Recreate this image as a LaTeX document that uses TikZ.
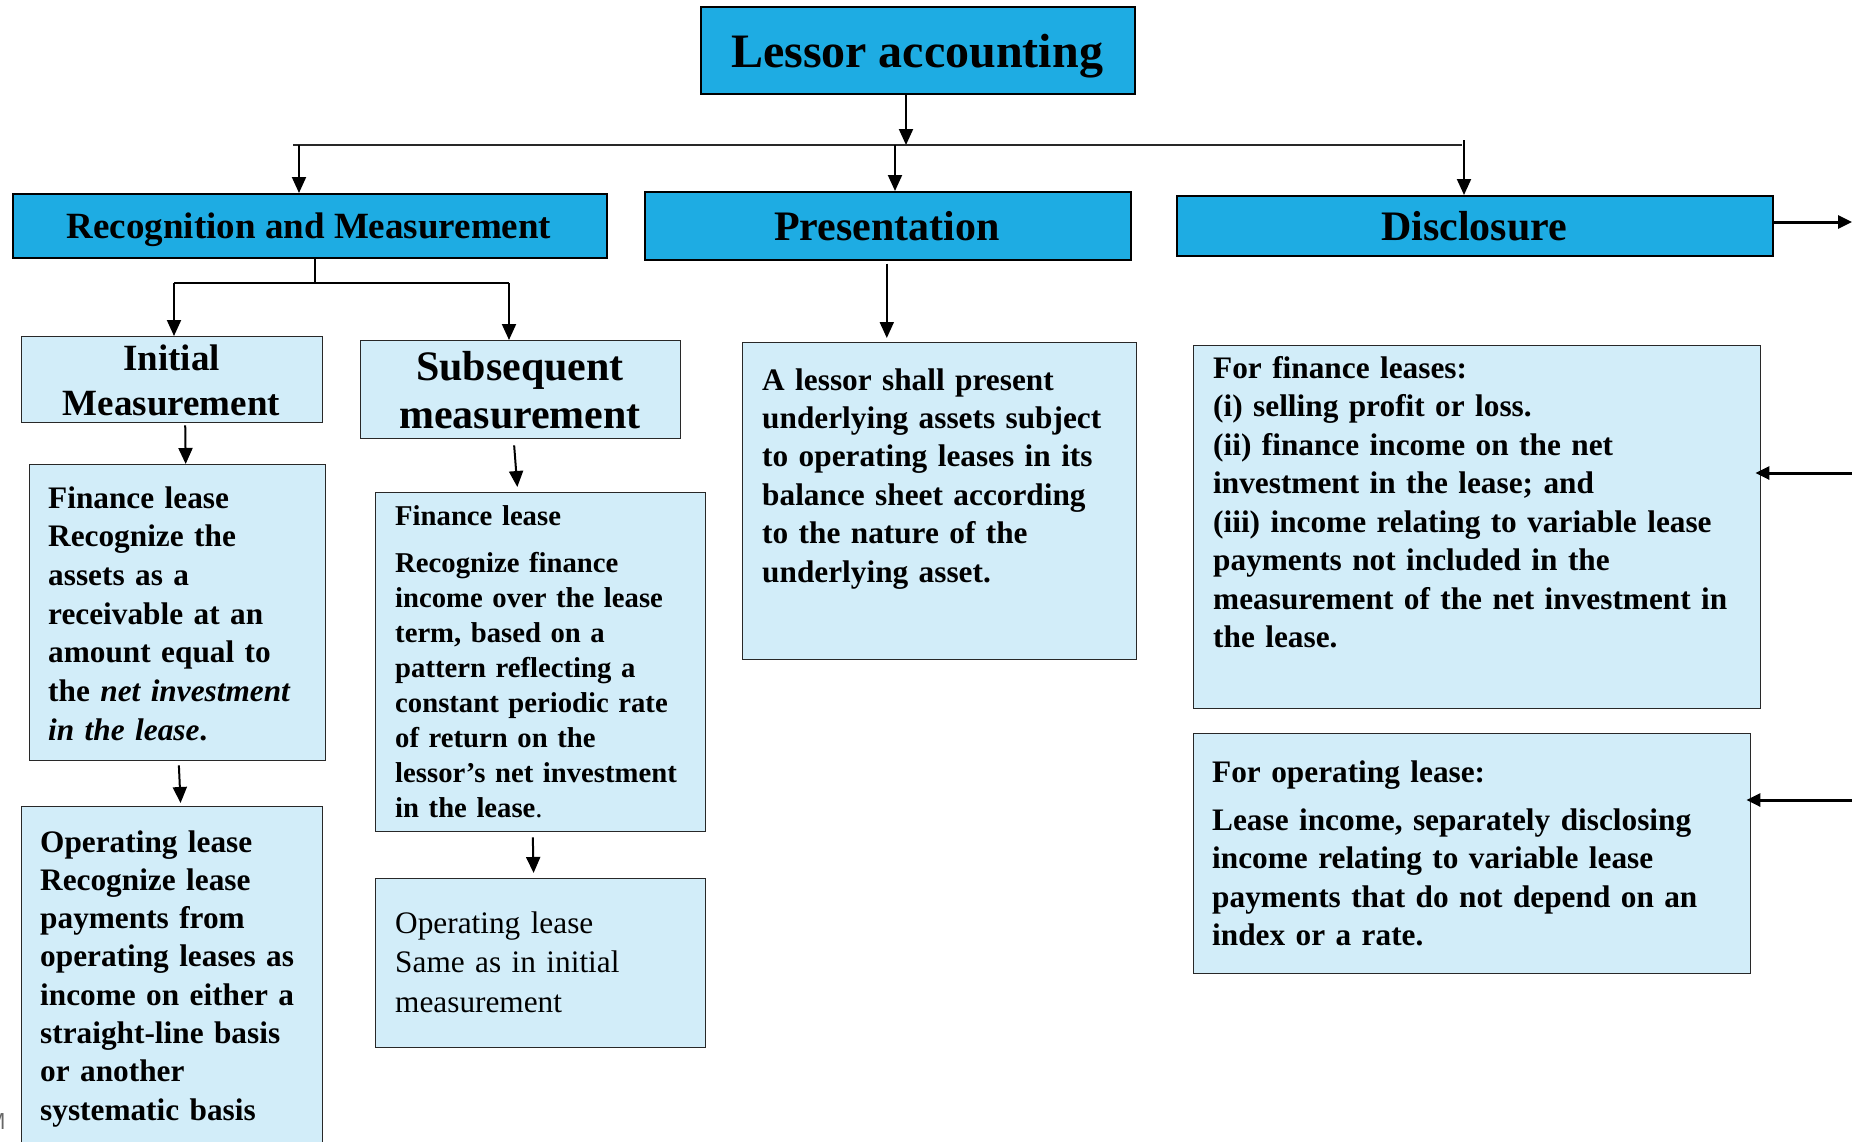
\documentclass[tikz,border=0pt]{standalone}
\usepackage{fontspec}
\setmainfont{Liberation Serif}
\usetikzlibrary{arrows.meta}
\definecolor{hblue}{RGB}{30,172,227}
\definecolor{lblue}{RGB}{210,237,249}
\definecolor{edge}{RGB}{40,40,40}
\tikzset{
  hbox/.style={draw=black, line width=1.6pt, fill=hblue, inner sep=0pt, anchor=north west},
  lbox/.style={draw=edge, line width=1.4pt, fill=lblue, inner sep=0pt, anchor=north west},
  arr/.style={line width=2pt, -{Triangle[length=16pt,width=14pt]}},
  tarr/.style={line width=3pt, -{Triangle[length=14pt,width=13pt]}},
  bus/.style={line width=2pt, draw=edge},
  body/.style={inner sep=0pt, anchor=base west, align=left, text width=#1},
  body/.default=560pt,
  hdr/.style={inner sep=0pt, anchor=base, font=\bfseries},
}
\begin{document}
\begin{tikzpicture}[x=1pt,y=-1pt]
\useasboundingbox (0,0) rectangle (1852,1141);

% ---------- boxes ----------
\node[hbox, minimum width=434pt, minimum height=87pt] (lessor) at (700,6) {};
\node[hbox, minimum width=594pt, minimum height=64pt] (rm) at (12,193) {};
\node[hbox, minimum width=486pt, minimum height=68pt] (pres) at (644,191) {};
\node[hbox, minimum width=596pt, minimum height=60pt] (disc) at (1176,195) {};

\node[lbox, minimum width=301pt, minimum height=86pt] (init) at (21,336) {};
\node[lbox, minimum width=320pt, minimum height=98pt] (subs) at (360,340) {};
\node[lbox, minimum width=296pt, minimum height=296pt] (fin1) at (29,464) {};
\node[lbox, minimum width=301pt, minimum height=360pt] (op1) at (21,806) {};
\node[lbox, minimum width=330pt, minimum height=339pt] (fin2) at (375,492) {};
\node[lbox, minimum width=330pt, minimum height=169pt] (op2) at (375,878) {};
\node[lbox, minimum width=394pt, minimum height=317pt] (ptext) at (742,342) {};
\node[lbox, minimum width=567pt, minimum height=363pt] (dfin) at (1193,345) {};
\node[lbox, minimum width=557pt, minimum height=240pt] (dop) at (1193,733) {};

% ---------- header texts ----------
\node[hdr, font=\bfseries\fontsize{48}{56}\selectfont] (tlessor) at (917,67) {Lessor accounting};
\node[hdr, font=\bfseries\fontsize{37}{44}\selectfont] (trm) at (309,238) {Recognition and Measurement};
\node[hdr, font=\bfseries\fontsize{42}{50}\selectfont] (tpres) at (887,240) {Presentation};
\node[hdr, font=\bfseries\fontsize{42}{50}\selectfont] (tdisc) at (1474,240) {Disclosure};
\node[hdr, text width=290pt, align=center, font=\bfseries\fontsize{37}{45}\selectfont] (tinit) at (171.5,370) {Initial\\Measurement};
\node[hdr, text width=310pt, align=center, font=\bfseries\fontsize{42}{48}\selectfont] (tsubs) at (520,380) {Subsequent\\measurement};

% ---------- body texts ----------
\node[body=280pt, font=\bfseries\fontsize{31.3}{38.7}\selectfont] (xfin1) at (48,508)
 {Finance lease\\Recognize the\\assets as a\\receivable at an\\amount equal to\\the \textit{net investment}\\\textit{in the lease}.};
\node[body=290pt, font=\bfseries\fontsize{31.3}{38.3}\selectfont] (xop1) at (40,852)
 {Operating lease\\Recognize lease\\payments from\\operating leases as\\income on either a\\straight-line basis\\or another\\systematic basis};
\node[body=320pt, font=\bfseries\fontsize{28.7}{35}\selectfont] (xfin2) at (395,525)
 {Finance lease\\[12pt]Recognize finance\\income over the lease\\term, based on a\\pattern reflecting a\\constant periodic rate\\of return on the\\lessor’s net investment\\in the lease\textmd{.}};
\node[body=320pt, font=\fontsize{31.3}{39.5}\selectfont] (xop2) at (395,933)
 {Operating lease\\Same as in initial\\measurement};
\node[body=380pt, font=\bfseries\fontsize{31.3}{38.4}\selectfont] (xpres) at (762,390)
 {A lessor shall present\\underlying assets subject\\to operating leases in its\\balance sheet according\\to the nature of the\\underlying asset.};
\node[body=545pt, font=\bfseries\fontsize{31.3}{38.5}\selectfont] (xdfin) at (1213,378)
 {For finance leases:\\(i) selling profit or loss.\\(ii) finance income on the net\\investment in the lease; and\\(iii) income relating to variable lease\\payments not included in the\\measurement of the net investment in\\the lease.};
\node[body=535pt, font=\bfseries\fontsize{31.3}{38.5}\selectfont] (xdop) at (1212,782)
 {For operating lease:\\[9.5pt]Lease income, separately disclosing\\income relating to variable lease\\payments that do not depend on an\\index or a rate.};

\node[inner sep=0pt, anchor=base east, text=gray!80!black, font=\sffamily\fontsize{23}{26}\selectfont] (mark) at (6,1129) {M};

% ---------- connectors ----------
\coordinate (hub) at (906,145);
\coordinate (busL) at (293,145);
\coordinate (busR) at (1462,145);
\coordinate (b1) at (299,145);
\coordinate (b2) at (895,145);
\coordinate (b3) at (1464,140);
\draw[arr] (lessor.south -| hub) -- (hub);
\draw[bus] (busL) -- (busR);
\draw[arr] (b1) -- (b1 |- rm.north);
\draw[arr] (b2) -- (b2 |- pres.north);
\draw[arr] (b3) -- (b3 |- disc.north);

\coordinate (split) at (315,283);
\coordinate (sL) at (174,283);
\coordinate (sR) at (509,283);
\draw[line width=1.6pt] (rm.south -| split) -- (split);
\draw[line width=2pt] (sL) -- (sR);
\draw[arr] (sL) -- (sL |- init.north);
\draw[arr] (sR) -- (sR |- subs.north);

\draw[arr, shorten <=2pt] ([xshift=13pt]init.south) -- ([xshift=8pt]fin1.north);
\draw[arr, shorten <=4pt, shorten >=3pt] ([xshift=1pt]fin1.south) -- ([xshift=8.5pt]op1.north);
\draw[arr, shorten <=6pt, shorten >=5pt] ([xshift=-7pt]subs.south) -- ([xshift=-23pt]fin2.north);
\draw[arr, shorten <=5pt, shorten >=5pt] ([xshift=-8pt]fin2.south) -- ([xshift=-7pt]op2.north);
\draw[arr, shorten <=3pt, shorten >=4pt] ([xshift=-1pt]pres.south) -- ([xshift=-1pt]pres.south |- ptext.north);

\coordinate (dR) at (1852,222);
\coordinate (fR) at (1852,473);
\coordinate (oR) at (1852,800);
\draw[tarr] (disc.east |- dR) -- (dR);
\draw[tarr, shorten >=-6pt] (fR) -- (fR -| dfin.east);
\draw[tarr, shorten >=-5pt] (oR) -- (oR -| dop.east);
\end{tikzpicture}
\end{document}
